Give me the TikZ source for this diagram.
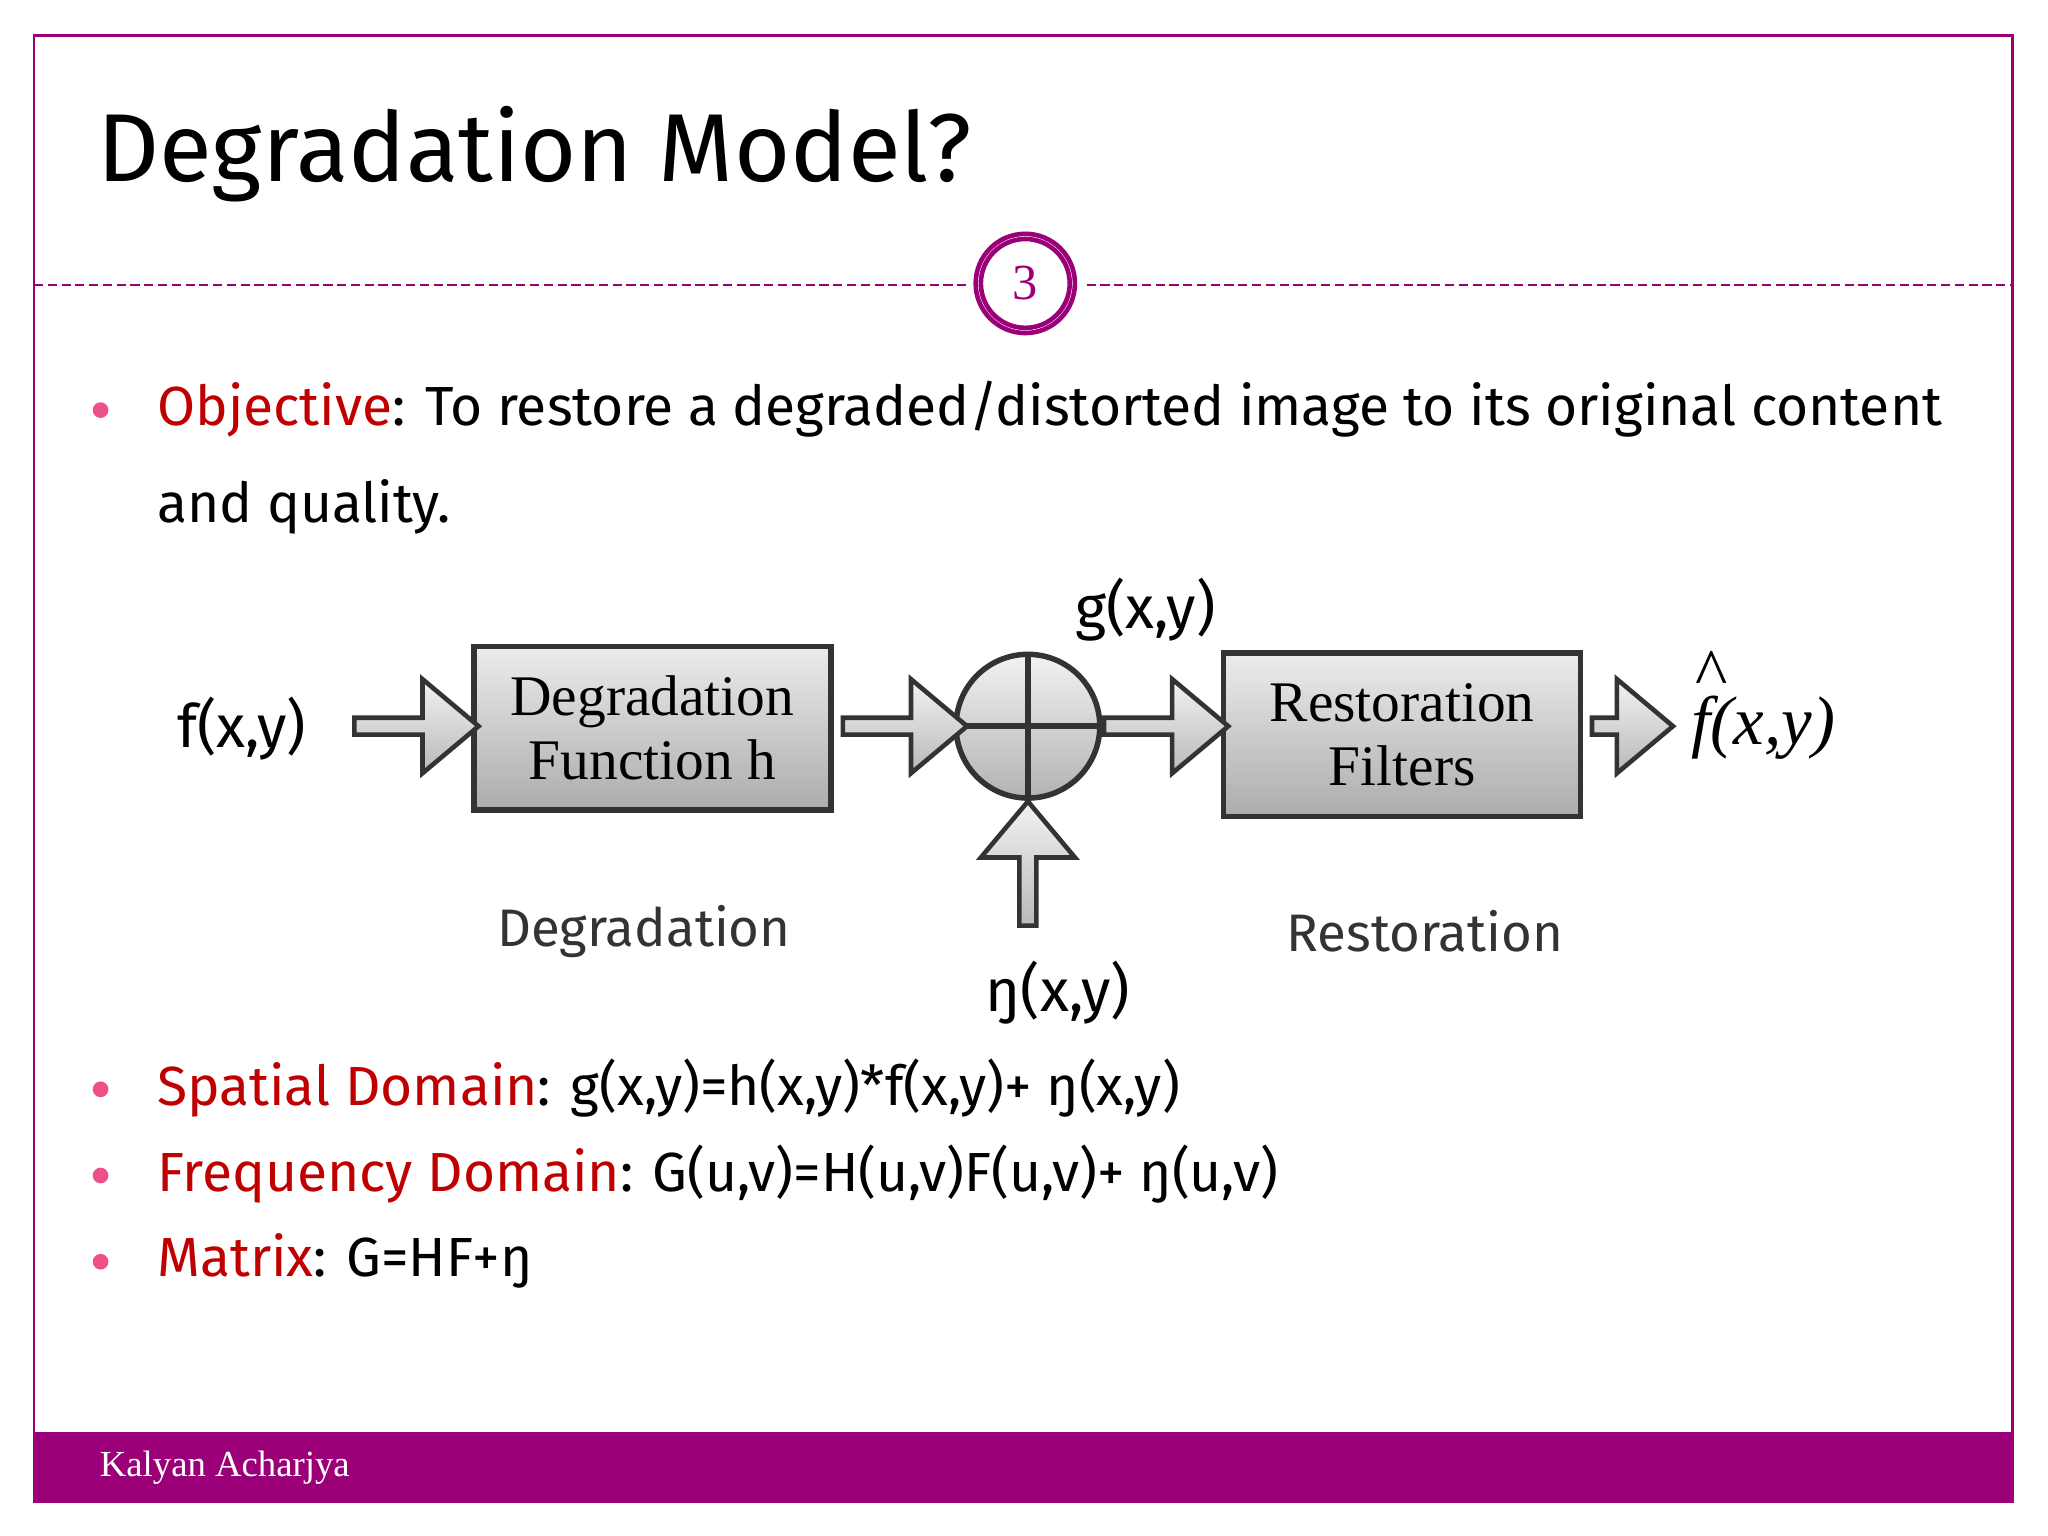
\documentclass[tikz,border=0pt]{standalone}
\usepackage{fontspec}
\setmainfont{Fira Sans}
\newfontfamily\serifA{Liberation Serif}
\usetikzlibrary{shapes.arrows}
\definecolor{plum}{HTML}{9B0078}
\definecolor{redt}{HTML}{C00000}
\definecolor{bul}{HTML}{F0508A}
\tikzset{
 blk/.style={draw=black!80,line width=1.2pt,top color=gray!15,bottom color=gray!65,align=center,font=\serifA\fontsize{12.5}{14}\selectfont},
 barrow/.style={single arrow,draw=black!80,line width=1pt,top color=gray!10,bottom color=gray!55,minimum height=0.95cm,minimum width=0.72cm,single arrow head extend=0.08cm,inner sep=0pt,single arrow tip angle=80},
 bt/.style={font=\fontsize{12}{14}\selectfont,anchor=west},
 lbl/.style={font=\fontsize{13}{15}\selectfont},
 dot/.style={circle,fill=bul,inner sep=0pt,minimum size=0.12cm}
}
\begin{document}
\begin{tikzpicture}[x=0.01cm,y=-0.01cm]
\useasboundingbox (0,0) rectangle (1568,1176);
\fill[white] (0,0) rectangle (1568,1176);
\draw[plum,line width=0.6pt] (26,27) rectangle (1541,1150);
\fill[plum] (26,1096) rectangle (1541,1150);
\node[anchor=west,white,font=\serifA\fontsize{8}{10}\selectfont] (foot) at (64,1124) {Kalyan Acharjya};
\node[anchor=west,font=\fontsize{21}{25}\selectfont] (title) at (62,118) {Degradation Model?};
\draw[plum,dash pattern=on 2pt off 1pt,line width=0.5pt] (26,218) -- (740,218) (832,218) -- (1541,218);
\node[circle,draw=plum,line width=1pt,minimum size=0.68cm,font=\serifA\fontsize{11}{13}\selectfont,text=plum] (num) at (785,217) {3};
\draw[plum,line width=1pt] (num.center) circle (38);
% bullets
\node[dot] (b1) at (77,314) {};
\node[bt] (t1) at (108,313) {\textcolor{redt}{Objective}: To\ restore\ a\ degraded/distorted\ image\ to\ its\ original\ content};
\node[bt] (t1b) at (108,388) {and quality.};
\node[dot] (b2) at (77,834) {};
\node[bt] (t2) at (108,833) {\textcolor{redt}{Spatial Domain}: g(x,y)=h(x,y)*f(x,y)+ ŋ(x,y)};
\node[dot] (b3) at (77,900) {};
\node[bt] (t3) at (108,899) {\textcolor{redt}{Frequency Domain}: G(u,v)=H(u,v)F(u,v)+ ŋ(u,v)};
\node[dot] (b4) at (77,966) {};
\node[bt] (t4) at (108,965) {\textcolor{redt}{Matrix}: G=HF+ŋ};
% diagram
\node[blk,minimum width=2.73cm,minimum height=1.25cm] (deg) at (499.5,557.5) {Degradation\\Function h};
\node[blk,minimum width=2.73cm,minimum height=1.25cm] (res) at (1073.5,562.5) {Restoration\\Filters};
\node[circle,draw=black!80,line width=1.2pt,top color=gray!10,bottom color=gray!60,minimum size=1.1cm] (sum) at (787,556) {};
\draw[black!80,line width=1.2pt] (sum.north) -- (sum.south) (sum.west) -- (sum.east);
\node[barrow] (a1) at (315,556) {};
\node[barrow] (a2) at (689,556) {};
\node[barrow] (a3) at (889,556) {};
\node[barrow,minimum height=0.62cm] (a4) at (1246,556) {};
\node[barrow,shape border rotate=90] (a5) at (787,665) {};
\node[lbl] (f) at (185,558) {f(x,y)};
\node[lbl] (g) at (877,467) {g(x,y)};
\node[lbl] (n) at (810,760) {ŋ(x,y)};
\node[lbl,text=black!80,font=\fontsize{11.5}{14}\selectfont] (dl) at (493,713) {Degradation};
\node[lbl,text=black!80,font=\fontsize{11.5}{14}\selectfont] (rl) at (1091,713) {Restoration};
\node[font=\serifA\itshape\fontsize{15}{17}\selectfont] (fh) at (1350,540) {\makebox[0pt][l]{\hspace{0.05em}\raisebox{0.7em}{\upshape\^{}}}f(x,y)};
\end{tikzpicture}
\end{document}
